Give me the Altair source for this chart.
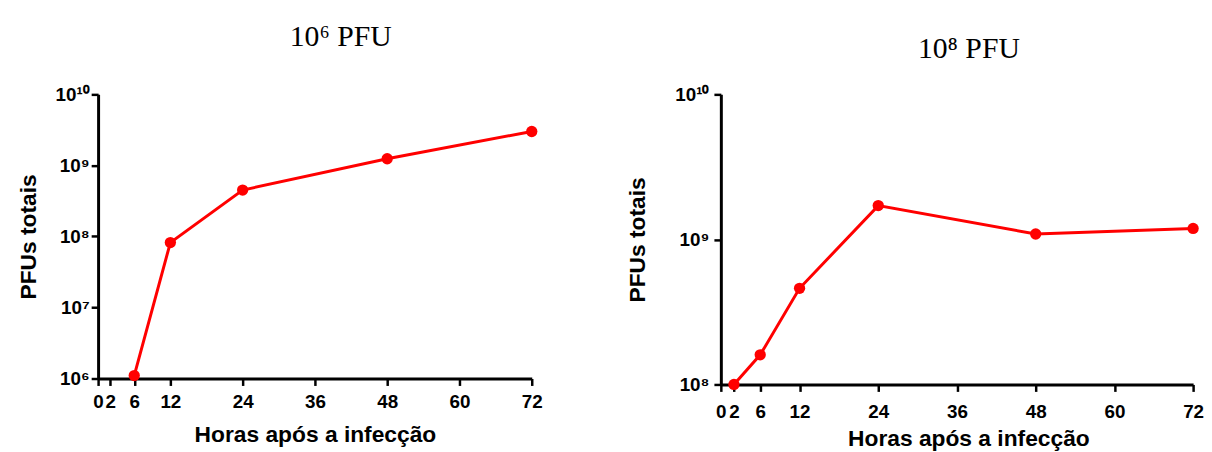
import altair as alt
import pandas as pd

# ---- data ----
hours_low = [6, 12, 24, 48, 72]
pfu_low = [1.1e6, 8.2e7, 4.5e8, 1.24e9, 3.0e9]

hours_high = [2, 6, 12, 24, 48, 72]
pfu_high = [1.0e8, 1.6e8, 4.6e8, 1.71e9, 1.09e9, 1.19e9]

x_ticks = [0, 2, 6, 12, 24, 36, 48, 60, 72]
y_ticks_low = [1e6, 1e7, 1e8, 1e9, 1e10]
y_ticks_high = [1e8, 1e9, 1e10]

panel_titles = ["10\u2076 PFU", "10\u2078 PFU"]
x_title = "Horas após a infecção"
y_title = "PFUs totais"

RED = "#ff0000"
SANS = "Liberation Sans"
SERIF = "Liberation Serif"

exp = "round(log(datum.value)/LN10)"
label_expr = (
    f"'10' + ({exp} == 10 ? '\u00b9\u2070' : {exp} == 9 ? '\u2079' : "
    f"{exp} == 8 ? '\u2078' : {exp} == 7 ? '\u2077' : {exp} == 6 ? '\u2076' : '')"
)


def panel(hours, pfu, yticks, title, width, height, title_dx, title_dy,
          title_offset, x_label_pad, x_title_pad, x_title_x, y_label_pad,
          y_title_pad):
    df = pd.DataFrame({"h": hours, "p": pfu})
    x_enc = alt.X(
        "h:Q",
        scale=alt.Scale(domain=[0, 72], nice=False, zero=False),
        axis=alt.Axis(
            values=x_ticks, title=x_title, grid=False,
            labelFlush=False, labelOverlap=False,
            labelPadding=x_label_pad, titlePadding=x_title_pad,
            titleX=x_title_x,
        ),
    )
    y_enc = alt.Y(
        "p:Q",
        scale=alt.Scale(type="log", domain=[yticks[0], yticks[-1]], nice=False),
        axis=alt.Axis(
            values=yticks, title=y_title, grid=False,
            labelExpr=label_expr, labelFlush=False, labelOverlap=False,
            labelPadding=y_label_pad, titlePadding=y_title_pad,
        ),
    )
    base = alt.Chart(df).encode(x=x_enc, y=y_enc)
    line = base.mark_line(color=RED, strokeWidth=3)
    pts = base.mark_circle(color=RED, size=130, opacity=1)
    return (line + pts).properties(
        width=width, height=height,
        title=alt.TitleParams(
            text=title, font=SERIF, fontSize=30, fontWeight="normal",
            color="black", dx=title_dx, dy=title_dy, offset=title_offset,
            baseline="alphabetic", anchor="middle",
        ),
    )


left = panel(hours_low, pfu_low, y_ticks_low, panel_titles[0], 438, 287,
             26, 0, 10, 7, 13, 219, 2, 15)
right = panel(hours_high, pfu_high, y_ticks_high, panel_titles[1], 477, 293,
              12, 2, 0, 11, 7, 250, 5, 26)

chart = (
    alt.hconcat(left, right, spacing=84)
    .properties(padding={"left": 9, "top": 12, "right": 0, "bottom": 0})
    .configure_view(stroke=None)
    .configure_axis(
        domainColor="black", domainWidth=3,
        tickColor="black", tickWidth=2.5, tickSize=7,
        labelFont=SANS, labelFontSize=19, labelFontWeight="bold", labelColor="black",
        titleFont=SANS, titleFontSize=23, titleFontWeight="bold", titleColor="black",
    )
)

chart.save("out.html", embed_options={"renderer": "svg", "actions": False})
